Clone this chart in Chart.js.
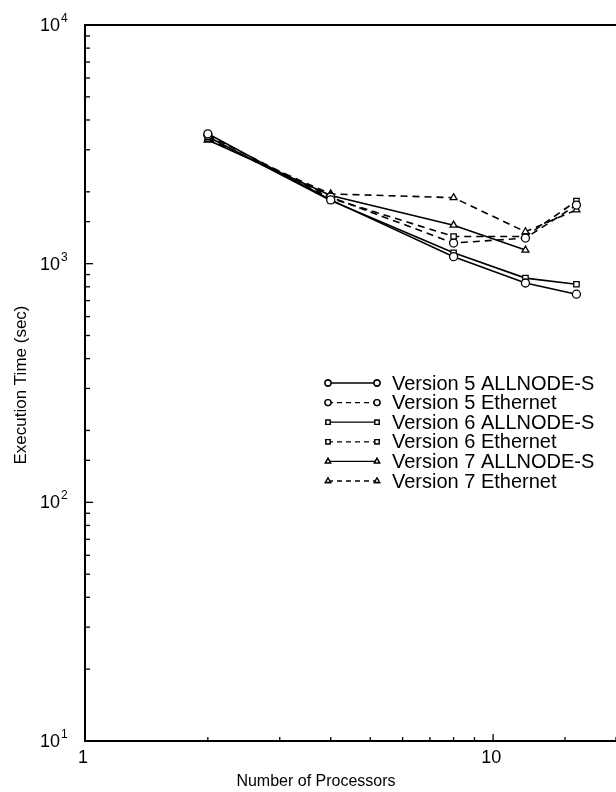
<!DOCTYPE html>
<html>
<head>
<meta charset="utf-8">
<script src="https://cdn.jsdelivr.net/npm/chart.js@4.4.0/dist/chart.umd.min.js"></script>
<style>
  html, body { margin: 0; padding: 0; background: #ffffff; }
  #wrap { width: 616px; height: 792px; position: relative; }
</style>
</head>
<body>
<div id="wrap"><canvas id="chart"></canvas></div>
<script>
// processor counts
const processors = [2, 4, 8, 12, 16];

// execution times (sec)
const v5Allnode = [3500, 1850, 1070, 830, 745];
const v5Ethernet = [3450, 1900, 1220, 1280, 1760];
const v6Allnode = [3400, 1840, 1110, 870, 820];
const v6Ethernet = [3350, 1880, 1300, 1300, 1830];
const v7Allnode = [3300, 1930, 1450, 1140];
const v7Ethernet = [3300, 1960, 1890, 1360, 1680];

const seriesNames = [
    'Version 5 ALLNODE-S',
    'Version 5 Ethernet',
    'Version 6 ALLNODE-S',
    'Version 6 Ethernet',
    'Version 7 ALLNODE-S',
    'Version 7 Ethernet'
];

const yTickLabels = ['10', '100', '1000', '10000'];
const xTickLabels = ['1', '10'];

const FONT = '"Liberation Sans", Arial, Helvetica, sans-serif';

function toPoints(values) {
    return values.map((v, i) => ({ x: processors[i], y: v }));
}

function makeDataset(label, values, shape, dashed) {
    return {
        label: label,
        data: toPoints(values),
        borderColor: '#000000',
        borderWidth: 1.6,
        borderDash: dashed ? [7, 5] : [],
        pointStyle: shape,
        pointRadius: shape === 'rect' ? 3.8 : 4,
        pointBorderWidth: 1.3,
        pointBackgroundColor: '#ffffff',
        pointBorderColor: '#000000',
        fill: false,
        tension: 0
    };
}

const datasets = [
    makeDataset(seriesNames[0], v5Allnode, 'circle', false),
    makeDataset(seriesNames[1], v5Ethernet, 'circle', true),
    makeDataset(seriesNames[2], v6Allnode, 'rect', false),
    makeDataset(seriesNames[3], v6Ethernet, 'rect', true),
    makeDataset(seriesNames[4], v7Allnode, 'triangle', false),
    makeDataset(seriesNames[5], v7Ethernet, 'triangle', true)
];

function isDecade(v) {
    const l = Math.log10(v);
    return Math.abs(l - Math.round(l)) < 1e-9;
}

// frame, inward ticks, labels and legend drawn on top of the scales
const framePlugin = {
    id: 'frame',
    afterDraw(chart) {
        const ctx = chart.ctx;
        const area = chart.chartArea;
        const xs = chart.scales.x;
        const ys = chart.scales.y;
        ctx.save();
        ctx.strokeStyle = '#000000';
        ctx.fillStyle = '#000000';

        // axes box (left, bottom, top; right side is cut off)
        ctx.lineWidth = 2;
        ctx.beginPath();
        ctx.moveTo(area.right + 2, area.top);
        ctx.lineTo(area.left, area.top);
        ctx.lineTo(area.left, area.bottom);
        ctx.lineTo(area.right + 2, area.bottom);
        ctx.stroke();

        // inward ticks
        ctx.lineWidth = 1.3;
        xs.ticks.forEach(t => {
            const px = xs.getPixelForValue(t.value);
            const len = isDecade(t.value) ? 7 : 4;
            ctx.beginPath();
            ctx.moveTo(px, area.bottom);
            ctx.lineTo(px, area.bottom - len);
            ctx.stroke();
        });
        ys.ticks.forEach(t => {
            const py = ys.getPixelForValue(t.value);
            const len = isDecade(t.value) ? 8 : 5;
            ctx.beginPath();
            ctx.moveTo(area.left, py);
            ctx.lineTo(area.left + len, py);
            ctx.stroke();
        });

        // y tick labels as 10 with superscript exponent
        yTickLabels.forEach(lbl => {
            const v = Number(lbl);
            const py = ys.getPixelForValue(v);
            const exp = String(Math.round(Math.log10(v)));
            ctx.font = '18px ' + FONT;
            ctx.textAlign = 'right';
            ctx.textBaseline = 'middle';
            ctx.fillText('10', 60, py + 1);
            ctx.font = '12px ' + FONT;
            ctx.textAlign = 'left';
            ctx.textBaseline = 'alphabetic';
            ctx.fillText(exp, 61, py - 3);
        });

        // x tick labels
        ctx.font = '18px ' + FONT;
        ctx.textAlign = 'center';
        ctx.textBaseline = 'middle';
        xTickLabels.forEach(lbl => {
            const px = xs.getPixelForValue(Number(lbl));
            ctx.fillText(lbl, px - 2, area.bottom + 17);
        });

        // axis titles
        ctx.font = '16px ' + FONT;
        ctx.fillText('Number of Processors', 316, 782);
        ctx.save();
        ctx.translate(21, 385);
        ctx.rotate(-Math.PI / 2);
        ctx.font = '17px ' + FONT;
        ctx.fillText('Execution Time (sec)', 0, 0);
        ctx.restore();

        // legend: line sample with a marker at each end
        const lx0 = 328, lx1 = 377, tx = 392, ly0 = 383, step = 19.6;
        chart.data.datasets.forEach((ds, i) => {
            const y = ly0 + i * step;
            ctx.lineWidth = 1.3;
            ctx.setLineDash(ds.borderDash.length ? [5, 4] : []);
            ctx.beginPath();
            ctx.moveTo(lx0, y);
            ctx.lineTo(lx1, y);
            ctx.stroke();
            ctx.setLineDash([]);
            [lx0, lx1].forEach(px => {
                Chart.helpers.drawPoint(ctx, {
                    pointStyle: ds.pointStyle,
                    radius: 3,
                    borderWidth: 1.1
                }, px, y);
                ctx.fillStyle = '#ffffff';
                ctx.fill();
                ctx.stroke();
                ctx.fillStyle = '#000000';
            });
            ctx.font = '20px ' + FONT;
            ctx.textAlign = 'left';
            ctx.textBaseline = 'middle';
            ctx.fillText(ds.label, tx, y + 1);
        });

        ctx.restore();
    }
};

const chart = new Chart(document.getElementById('chart'), {
    type: 'line',
    data: { datasets: datasets },
    options: {
        responsive: true,
        maintainAspectRatio: false,
        animation: false,
        clip: false,
        layout: { autoPadding: false, padding: { left: 85, top: 25, right: 0, bottom: 51 } },
        plugins: {
            legend: { display: false },
            tooltip: { enabled: false }
        },
        scales: {
            x: {
                type: 'logarithmic',
                min: 1,
                max: 20,
                grid: { display: false, drawTicks: false },
                border: { display: false },
                ticks: { display: false }
            },
            y: {
                type: 'logarithmic',
                min: 10,
                max: 10000,
                grid: { display: false, drawTicks: false },
                border: { display: false },
                ticks: { display: false }
            }
        }
    },
    plugins: [framePlugin]
});
</script>
</body>
</html>
